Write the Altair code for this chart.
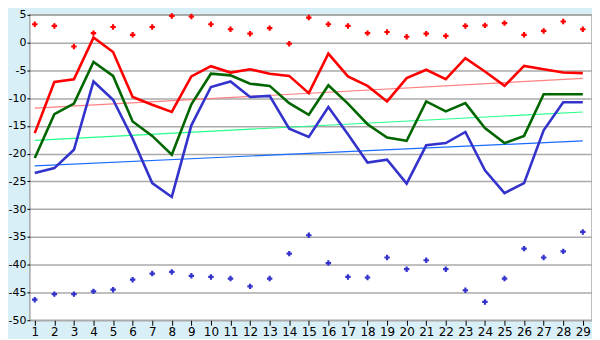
import altair as alt
import pandas as pd

days = list(range(1, 30))

red_line = [-16.3, -7.1, -6.6, 0.9, -1.7, -9.8, -11.2, -12.5, -6.1, -4.25,
            -5.4, -4.8, -5.6, -6.0, -9.1, -2.0, -6.1, -7.8, -10.6, -6.4,
            -4.9, -6.6, -2.8, -5.2, -7.8, -4.2, -4.8, -5.4, -5.5]
green_line = [-20.8, -12.9, -11.0, -3.5, -6.0, -14.2, -16.8, -20.2, -11.1, -5.6,
              -5.9, -7.4, -7.8, -10.9, -13.0, -7.7, -11.0, -14.7, -17.1, -17.7,
              -10.6, -12.4, -10.9, -15.4, -18.1, -16.8, -9.3, -9.3, -9.3]
blue_line = [-23.5, -22.6, -19.3, -7.0, -10.3, -17.3, -25.3, -27.8, -14.9, -8.0,
             -7.0, -9.8, -9.6, -15.5, -17.0, -11.6, -16.5, -21.6, -21.1, -25.4,
             -18.5, -18.1, -16.1, -23.0, -27.1, -25.3, -15.8, -10.75, -10.75]
red_points = [3.3, 3.0, -0.7, 1.7, 2.8, 1.4, 2.8, 4.8, 4.7, 3.3,
              2.4, 1.6, 2.6, -0.2, 4.5, 3.3, 3.0, 1.7, 1.9, 1.05,
              1.6, 1.2, 3.0, 3.1, 3.5, 1.4, 2.1, 3.8, 2.4]
blue_points = [-46.3, -45.3, -45.3, -44.8, -44.5, -42.7, -41.6, -41.3, -42.0, -42.2,
               -42.5, -43.9, -42.5, -38.0, -34.7, -39.7, -42.2, -42.3, -38.7, -40.8,
               -39.2, -40.8, -44.6, -46.7, -42.5, -37.1, -38.7, -37.6, -34.1]

trend_x = [1, 29]
red_trend = [-11.8, -6.45]
green_trend = [-17.6, -12.5]
blue_trend = [-22.2, -17.7]

y_ticks = list(range(-50, 6, 5))

lines = pd.concat([
    pd.DataFrame({"day": days, "v": red_line, "s": "red"}),
    pd.DataFrame({"day": days, "v": green_line, "s": "green"}),
    pd.DataFrame({"day": days, "v": blue_line, "s": "blue"}),
])
trends = pd.concat([
    pd.DataFrame({"day": trend_x, "v": red_trend, "s": "red_t"}),
    pd.DataFrame({"day": trend_x, "v": green_trend, "s": "green_t"}),
    pd.DataFrame({"day": trend_x, "v": blue_trend, "s": "blue_t"}),
])
points = pd.concat([
    pd.DataFrame({"day": days, "v": red_points, "s": "red_p"}),
    pd.DataFrame({"day": days, "v": blue_points, "s": "blue_p"}),
])

color_scale = alt.Scale(
    domain=["red", "green", "blue", "red_t", "green_t", "blue_t", "red_p", "blue_p"],
    range=["#ff0000", "#006600", "#3333cc", "#ff8080", "#22ff88", "#1a6cff", "#ff0000", "#3333cc"],
)

x_enc = alt.X("day:Q", scale=alt.Scale(domain=[0.75, 29.47], nice=False, zero=False),
              axis=alt.Axis(values=days, format="d", title=None, grid=False,
                            tickSize=5, tickColor="#000000", domain=False,
                            labelFontSize=12, labelColor="#000000", labelPadding=1,
                            labelFont="DejaVu Sans"))
y_enc = alt.Y("v:Q", scale=alt.Scale(domain=[-50, 5], nice=False, zero=False),
              axis=alt.Axis(values=y_ticks, title=None, grid=True, gridColor="#aaaaaa",
                            gridWidth=1.5, tickSize=3, tickColor="#000000", domain=False,
                            labelExpr="'' + datum.value",
                            labelFontSize=11, labelColor="#000000", labelPadding=1,
                            labelFont="DejaVu Sans"))
col = alt.Color("s:N", scale=color_scale, legend=None)

trend_layer = alt.Chart(trends).mark_line(strokeWidth=1.2).encode(
    x=x_enc, y=y_enc, color=col, detail="s:N")
line_layer = alt.Chart(lines).mark_line(strokeWidth=2.6).encode(
    x=x_enc, y=y_enc, color=col, detail="s:N")
point_layer = alt.Chart(points).mark_point(shape="cross", filled=True, size=30, opacity=1).encode(
    x=x_enc, y=y_enc, color=col)

chart = alt.layer(trend_layer, line_layer, point_layer).properties(
    width=565, height=307,
    autosize=alt.AutoSizeParams(type="none"),
    padding={"left": 22, "top": 6, "right": 0, "bottom": 18},
    background="#d8eff7",
).configure_view(fill="#ffffff", stroke="#a8a8a8", strokeWidth=1.5)

chart.save("out.html", embed_options={"renderer": "svg", "actions": False})
